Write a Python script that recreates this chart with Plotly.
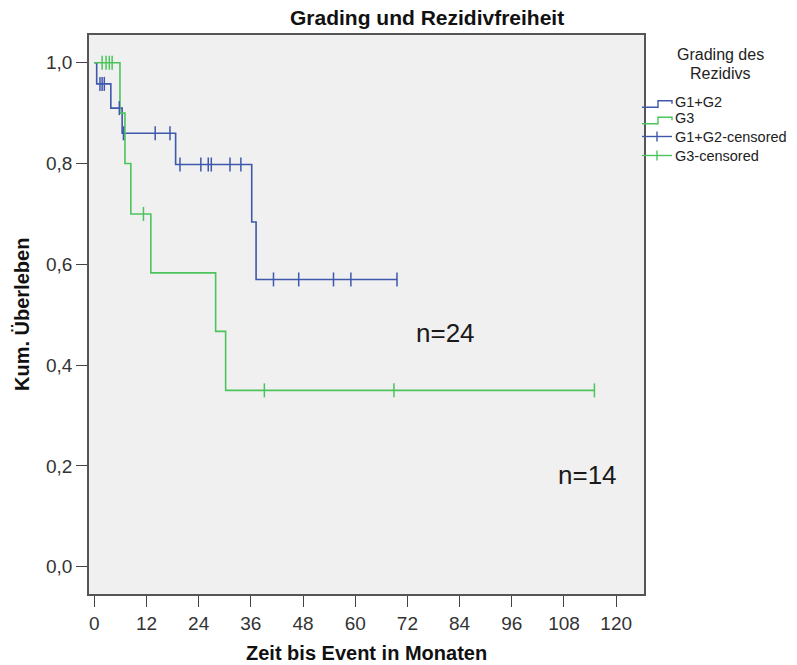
import plotly.graph_objects as go

# Kaplan-Meier step curves (time in months, cumulative survival)
g12_times = [0, 0.55, 3.8, 6.4, 18.7, 36.2, 37.2, 69.6]
g12_surv = [1.0, 0.958, 0.910, 0.860, 0.798, 0.684, 0.570, 0.570]
g3_times = [0, 5.9, 7.05, 8.4, 13.0, 27.9, 30.2, 115.0]
g3_surv = [1.0, 0.900, 0.800, 0.700, 0.583, 0.467, 0.350, 0.350]

# censored observations
g12_cens_times = [1.3, 1.8, 2.3, 5.75, 6.7, 14.0, 17.4, 19.7, 24.5, 26.2, 26.9,
                  31.2, 33.7, 41.2, 47.0, 55.0, 59.0, 69.6]
g12_cens_surv = [0.958, 0.958, 0.958, 0.910, 0.860, 0.860, 0.860, 0.798, 0.798,
                 0.798, 0.798, 0.798, 0.798, 0.570, 0.570, 0.570, 0.570, 0.570]
g3_cens_times = [1.8, 2.7, 3.45, 4.1, 11.3, 39.1, 68.9, 115.0]
g3_cens_surv = [1.0, 1.0, 1.0, 1.0, 0.700, 0.350, 0.350, 0.350]

group_labels = ["G1+G2", "G3", "G1+G2-censored", "G3-censored"]
n_labels = ["n=24", "n=14"]
x_ticks = list(range(0, 121, 12))
y_ticks = [0.0, 0.2, 0.4, 0.6, 0.8, 1.0]

BLUE = "#3E58AC"
GREEN = "#4cc45c"
SANS = "Liberation Sans, Arial, sans-serif"

W, H = 797, 665
ML, MR, MT, MB = 89, 153, 35, 71
PW, PH = W - ML - MR, H - MT - MB


def px(x):
    return (x - ML) / PW


def py(y):
    return (H - MB - y) / PH


fig = go.Figure()
fig.add_trace(go.Scatter(x=g12_times, y=g12_surv, mode="lines", line_shape="hv",
                         line=dict(color=BLUE, width=1.6), hoverinfo="skip"))
fig.add_trace(go.Scatter(x=g3_times, y=g3_surv, mode="lines", line_shape="hv",
                         line=dict(color=GREEN, width=1.6), hoverinfo="skip"))
fig.add_trace(go.Scatter(x=g12_cens_times, y=g12_cens_surv, mode="markers",
                         marker=dict(symbol="line-ns", size=10,
                                     line=dict(color=BLUE, width=1.5)),
                         hoverinfo="skip"))
fig.add_trace(go.Scatter(x=g3_cens_times, y=g3_cens_surv, mode="markers",
                         marker=dict(symbol="line-ns", size=10,
                                     line=dict(color=GREEN, width=1.5)),
                         hoverinfo="skip"))

annotations = []
shapes = []

# sample size labels
for text, (ax_, ay_) in zip(n_labels, [(80.7, 0.463), (113.3, 0.182)]):
    annotations.append(dict(x=ax_, y=ay_, xref="x", yref="y", text=text,
                            showarrow=False, xanchor="center", yanchor="middle",
                            font=dict(family=SANS, size=26, color="#1a1a1a")))

# titles
annotations.append(dict(x=px(427), y=py(18), xref="paper", yref="paper",
                        text="<b>Grading und Rezidivfreiheit</b>", showarrow=False,
                        xanchor="center", yanchor="middle",
                        font=dict(family=SANS, size=21, color="#111")))
annotations.append(dict(x=0.5, y=py(653), xref="paper", yref="paper",
                        text="<b>Zeit bis Event in Monaten</b>", showarrow=False,
                        xanchor="center", yanchor="middle",
                        font=dict(family=SANS, size=20, color="#111")))
annotations.append(dict(x=px(22), y=py(315), xref="paper", yref="paper",
                        text="<b>Kum. Überleben</b>", showarrow=False, textangle=-90,
                        xanchor="center", yanchor="middle",
                        font=dict(family=SANS, size=20, color="#111")))

# legend
annotations.append(dict(x=px(720), y=py(54), xref="paper", yref="paper",
                        text="Grading des", showarrow=False, xanchor="center",
                        yanchor="middle", font=dict(family=SANS, size=16, color="#222")))
annotations.append(dict(x=px(720), y=py(73), xref="paper", yref="paper",
                        text="Rezidivs", showarrow=False, xanchor="center",
                        yanchor="middle", font=dict(family=SANS, size=16, color="#222")))
rows = [101.7, 118.3, 136.5, 155.5]
colors = [BLUE, GREEN, BLUE, GREEN]
for i, (label, yc, col) in enumerate(zip(group_labels, rows, colors)):
    annotations.append(dict(x=px(673), y=py(yc), xref="paper", yref="paper",
                            text=label, showarrow=False, xanchor="left",
                            yanchor="middle",
                            font=dict(family=SANS, size=14.5, color="#222")))
    if i < 2:
        lo, hi = yc + 5.5, yc - 1
        path = (f"M {px(642)},{py(lo)} L {px(658)},{py(lo)} L {px(658)},{py(hi)} "
                f"L {px(672)},{py(hi)} L {px(672)},{py(hi + 3)}")
        shapes.append(dict(type="path", path=path, xref="paper", yref="paper",
                           line=dict(color=col, width=1.4)))
    else:
        shapes.append(dict(type="line", x0=px(642), x1=px(672), y0=py(yc), y1=py(yc),
                           xref="paper", yref="paper", line=dict(color=col, width=1.4)))
        shapes.append(dict(type="line", x0=px(657), x1=px(657), y0=py(yc - 5),
                           y1=py(yc + 5), xref="paper", yref="paper",
                           line=dict(color=col, width=1.4)))

fig.update_layout(
    width=W, height=H,
    margin=dict(l=ML, r=MR, t=MT, b=MB, pad=0),
    paper_bgcolor="white", plot_bgcolor="#f0f0f0",
    separators=",.",
    showlegend=False,
    annotations=annotations,
    shapes=shapes,
)
axis_common = dict(showgrid=False, zeroline=False, showline=True, mirror=True,
                   linecolor="#555", linewidth=1.6, ticks="outside", ticklen=11,
                   tickcolor="#444", tickwidth=1.3,
                   tickfont=dict(family=SANS, size=19, color="#333"))
fig.update_xaxes(range=[-1.22, 126.4], tickvals=x_ticks, **axis_common)
fig.update_yaxes(range=[-0.054, 1.055], tickvals=y_ticks, tickformat=".1f",
                 **axis_common)

fig.write_html("out.html")
